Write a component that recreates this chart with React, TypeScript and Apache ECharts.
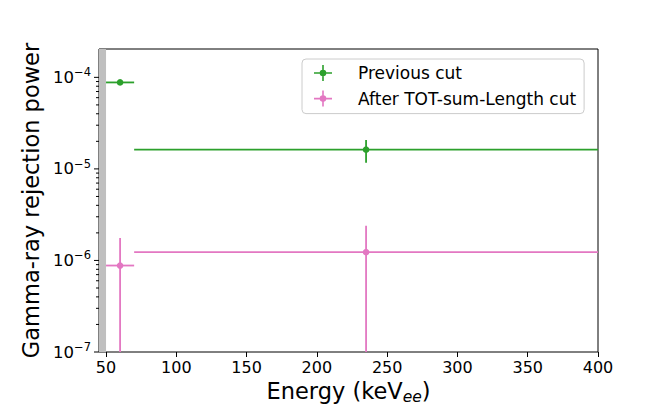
import React, { useEffect, useRef } from "react";
import * as echarts from "echarts";

// ---- data ----
const energyCenters = [60, 235];
const energyHalfWidths = [10, 165];
const previousCut = [8.8e-5, 1.62e-5];
const previousCutErr = [0.4e-5, 0.45e-5];
const afterCut = [8.8e-7, 1.23e-6];
const afterCutErr = [0.88e-6, 1.17e-6];
const seriesNames = ["Previous cut", "After TOT-sum-Length cut"];
const xTickValues = [50, 100, 150, 200, 250, 300, 350, 400];
const yMajorTicks = [1e-7, 1e-6, 1e-5, 1e-4];
const yMinorTicks = [
  2e-7, 3e-7, 4e-7, 5e-7, 6e-7, 7e-7, 8e-7, 9e-7,
  2e-6, 3e-6, 4e-6, 5e-6, 6e-6, 7e-6, 8e-6, 9e-6,
  2e-5, 3e-5, 4e-5, 5e-5, 6e-5, 7e-5, 8e-5, 9e-5,
];
const excludedBand = [45, 50];

const X_MIN = 45;
const X_MAX = 400;
const Y_MIN = 1e-7;
const Y_MAX = 2.04e-4;

const GREEN = "#2ca02c";
const PINK = "#e377c2";
const FONT = "DejaVu Sans";

const LEGEND_ICON =
  "path://M0,7.2h18v1.6h-18z M8.2,0h1.6v16h-1.6z M12.3,8a3.3,3.3 0 1,1 -6.6,0a3.3,3.3 0 1,1 6.6,0z";

function errorBarRender(color: string) {
  return (params: any, api: any) => {
    const x = api.value(0);
    const y = api.value(1);
    const xe = api.value(2);
    const ye = api.value(3);
    const left = api.coord([Math.max(x - xe, X_MIN), y]);
    const right = api.coord([Math.min(x + xe, X_MAX), y]);
    const low = api.coord([x, Math.max(y - ye, Y_MIN)]);
    const high = api.coord([x, Math.min(y + ye, Y_MAX)]);
    const c = api.coord([x, y]);
    return {
      type: "group",
      children: [
        {
          type: "line",
          shape: { x1: left[0], y1: left[1], x2: right[0], y2: right[1] },
          style: { stroke: color, lineWidth: 1.8 },
        },
        {
          type: "line",
          shape: { x1: low[0], y1: low[1], x2: high[0], y2: high[1] },
          style: { stroke: color, lineWidth: 1.8 },
        },
        {
          type: "circle",
          shape: { cx: c[0], cy: c[1], r: 3.3 },
          style: { fill: color },
        },
      ],
    };
  };
}

export default function App() {
  const ref = useRef<HTMLDivElement>(null);

  useEffect(() => {
    if (!ref.current) return;
    const chart = echarts.init(ref.current, undefined, { renderer: "svg" });

    const prevData = energyCenters.map((x, i) => [x, previousCut[i], energyHalfWidths[i], previousCutErr[i]]);
    const afterData = energyCenters.map((x, i) => [x, afterCut[i], energyHalfWidths[i], afterCutErr[i]]);
    const tickData = [
      ...yMajorTicks.map((v) => [X_MIN, v, 5]),
      ...yMinorTicks.map((v) => [X_MIN, v, 3]),
    ];

    chart.setOption({
      animation: false,
      textStyle: { fontFamily: FONT },
      grid: {
        left: 99,
        right: 66,
        top: 49,
        bottom: 63,
        show: true,
        borderColor: "#000",
        borderWidth: 1,
        backgroundColor: "transparent",
      },
      legend: {
        orient: "vertical",
        left: 302,
        top: 59,
        padding: [5, 8, 6, 12],
        itemGap: 7.6,
        itemWidth: 18,
        itemHeight: 16,
        borderColor: "#cccccc",
        borderWidth: 1,
        borderRadius: 4,
        backgroundColor: "rgba(255,255,255,0.8)",
        textStyle: {
          fontFamily: FONT,
          fontSize: 17,
          color: "#000",
          padding: [0, 0, 0, 21],
          lineHeight: 18,
        },
        data: seriesNames.map((n) => ({ name: n, icon: LEGEND_ICON })),
      },
      xAxis: {
        type: "value",
        min: X_MIN,
        max: X_MAX,
        axisLine: { show: false },
        splitLine: { show: false },
        axisTick: {
          show: true,
          customValues: xTickValues,
          length: 5,
          lineStyle: { color: "#000", width: 1 },
        },
        axisLabel: {
          customValues: xTickValues,
          fontSize: 16,
          color: "#000",
          fontFamily: FONT,
          margin: 7,
        },
        name: "{n|Energy (keV}{s|ee}{n|)}",
        nameLocation: "middle",
        nameGap: 25,
        nameTextStyle: {
          rich: {
            n: { fontSize: 22.5, fontFamily: FONT, color: "#000" },
            s: {
              fontSize: 15.5,
              fontFamily: FONT,
              fontStyle: "italic",
              color: "#000",
              padding: [12, 0, 0, 0],
            },
          },
        },
      },
      yAxis: {
        type: "log",
        logBase: 10,
        min: Y_MIN,
        max: Y_MAX,
        axisLine: { show: false },
        splitLine: { show: false },
        axisTick: { show: false },
        minorTick: { show: false },
        axisLabel: {
          color: "#000",
          margin: 8,
          formatter: (v: number) => {
            const l = Math.log10(v);
            const e = Math.round(l);
            if (Math.abs(l - e) > 1e-6) return "";
            return "{b|10}{s|\u2212" + Math.abs(e) + "}";
          },
          rich: {
            b: { fontSize: 16.5, fontFamily: FONT, color: "#000" },
            s: {
              fontSize: 11.5,
              fontFamily: FONT,
              color: "#000",
              padding: [0, 0, 10, 0],
            },
          },
        },
        name: "Gamma-ray rejection power",
        nameLocation: "middle",
        nameGap: 56,
        nameTextStyle: { fontSize: 22.5, fontFamily: FONT, color: "#000" },
      },
      series: [
        {
          name: "band",
          type: "line",
          data: [],
          silent: true,
          markArea: {
            silent: true,
            itemStyle: { color: "#bfbfbf", borderWidth: 0 },
            data: [[{ xAxis: excludedBand[0] }, { xAxis: excludedBand[1] }]],
          },
        },
        {
          name: "ticks",
          type: "custom",
          silent: true,
          clip: false,
          z: 10,
          renderItem: (params: any, api: any) => {
            const p = api.coord([api.value(0), api.value(1)]);
            const len = api.value(2);
            return {
              type: "line",
              shape: { x1: p[0], y1: p[1], x2: p[0] - len, y2: p[1] },
              style: { stroke: "#000", lineWidth: 1 },
            };
          },
          data: tickData,
        },
        {
          name: seriesNames[0],
          type: "custom",
          clip: true,
          itemStyle: { color: GREEN },
          renderItem: errorBarRender(GREEN),
          data: prevData,
          z: 5,
        },
        {
          name: seriesNames[1],
          type: "custom",
          clip: true,
          itemStyle: { color: PINK },
          renderItem: errorBarRender(PINK),
          data: afterData,
          z: 5,
        },
      ],
    });

    return () => chart.dispose();
  }, []);

  return (
    <div
      ref={ref}
      style={{ position: "fixed", left: 0, top: 0, width: 664, height: 415, background: "#fff" }}
    />
  );
}
